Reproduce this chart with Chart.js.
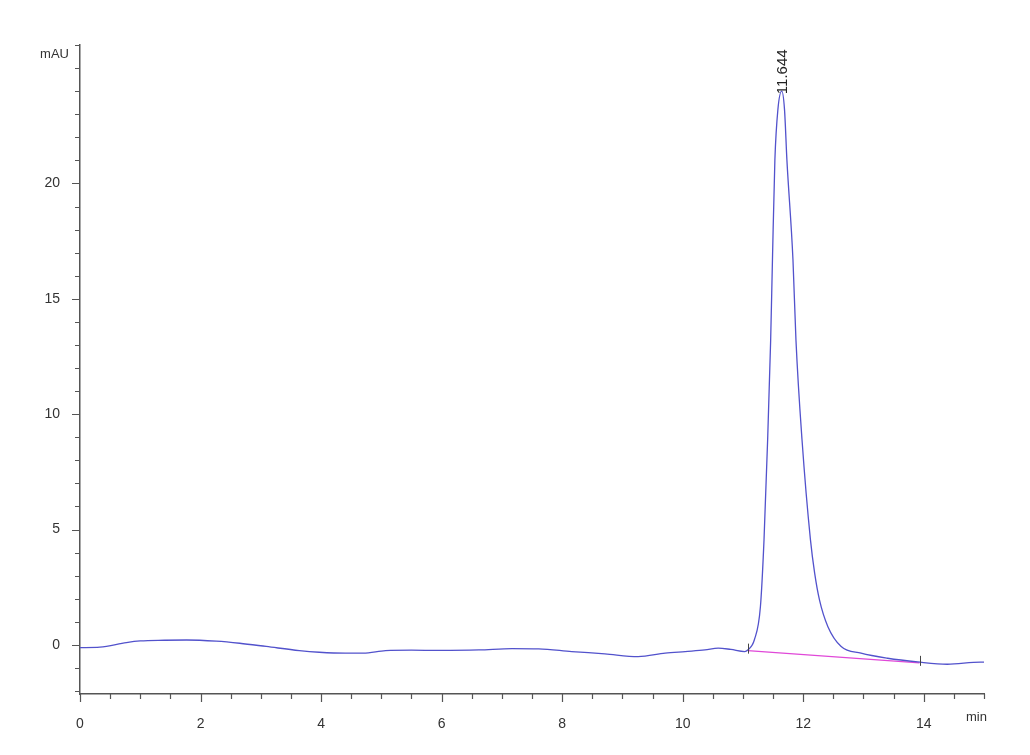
<!DOCTYPE html>
<html>
<head>
    <title>Chromatogram</title>
    <script src="https://cdn.jsdelivr.net/npm/chart.js"></script>
    <style>
        body { margin: 0; background: #fff; }
        .chart-container { width: 1030px; height: 755px; }
    </style>
</head>
<body>
    <div class="chart-container">
        <canvas id="chromChart"></canvas>
    </div>

    <script>
        // 数据 (时间 min, 信号 mAU)
        const signalTime = [0, 0.33, 0.77, 1.0, 1.4, 1.77, 2.26, 2.65, 3.09, 3.64, 3.97, 4.4, 4.7, 5.07, 5.5, 5.96,
            6.62, 7.17, 7.61, 8.16, 8.71, 9.26, 9.71, 10.04, 10.37, 10.59, 10.8, 11.03, 11.08, 11.19, 11.29,
            11.35, 11.41, 11.46, 11.49, 11.53, 11.58, 11.644, 11.69, 11.73, 11.83, 11.88, 11.98, 12.12, 12.19,
            12.27, 12.41, 12.63, 12.96, 13.40, 13.9, 14.39, 14.94, 15.0];
        const signalValue = [-0.12, -0.1, 0.1, 0.17, 0.2, 0.21, 0.16, 0.07, -0.07, -0.25, -0.32, -0.36, -0.36, -0.25, -0.23, -0.24,
            -0.22, -0.16, -0.17, -0.29, -0.39, -0.51, -0.36, -0.29, -0.22, -0.14, -0.2, -0.29, -0.22, 0.22, 1.65,
            4.56, 8.89, 13.2, 16.7, 21.0, 23.2, 24.0, 23.2, 21.0, 16.7, 13.2, 8.9, 4.56, 3.11,
            1.95, 0.79, -0.07, -0.36, -0.58, -0.74, -0.84, -0.75, -0.75];
        const baselineTime = [11.08, 13.93];
        const baselineValue = [-0.25, -0.78];
        const peakTime = 11.644;
        const peakValue = 24.0;
        const peakLabel = '11.644';
        const xTickLabels = [0, 2, 4, 6, 8, 10, 12, 14];
        const yTickLabels = [0, 5, 10, 15, 20];

        const axisColor = '#555';

        // 自定义刻度、轴标题和峰标注
        const decorPlugin = {
            id: 'decor',
            afterDraw(chart) {
                const ctx = chart.ctx;
                const xs = chart.scales.x, ys = chart.scales.y;
                const area = chart.chartArea;
                ctx.save();
                ctx.strokeStyle = axisColor;
                ctx.lineWidth = 1.2;
                ctx.beginPath();
                for (let v = 0; v <= 15.001; v += 0.5) {
                    const px = Math.round(xs.getPixelForValue(v)) + 0.5;
                    const len = xTickLabels.includes(v) ? 8 : 5;
                    ctx.moveTo(px, area.bottom);
                    ctx.lineTo(px, area.bottom + len);
                }
                for (let v = -2; v <= 26; v += 1) {
                    const py = Math.round(ys.getPixelForValue(v)) + 0.5;
                    const len = yTickLabels.includes(v) ? 8 : 5;
                    ctx.moveTo(area.left, py);
                    ctx.lineTo(area.left - len, py);
                }
                ctx.stroke();

                // 轴标题
                ctx.fillStyle = '#333';
                ctx.font = '13px "Liberation Sans", Arial, sans-serif';
                ctx.textBaseline = 'middle';
                ctx.textAlign = 'right';
                ctx.fillText('mAU', area.left - 11, area.top + 9);
                ctx.textAlign = 'left';
                ctx.fillText('min', area.right - 18, area.bottom + 23);

                // 积分基线端点标记
                ctx.strokeStyle = '#444';
                ctx.lineWidth = 1;
                ctx.beginPath();
                for (let i = 0; i < baselineTime.length; i++) {
                    const bx = Math.round(xs.getPixelForValue(baselineTime[i])) + 0.5;
                    const by = ys.getPixelForValue(baselineValue[i]);
                    ctx.moveTo(bx, by - 7);
                    ctx.lineTo(bx, by + 3);
                }
                ctx.stroke();

                // 峰保留时间标注
                const px = xs.getPixelForValue(peakTime);
                const py = ys.getPixelForValue(peakValue);
                ctx.translate(px + 1, py + 3);
                ctx.rotate(-Math.PI / 2);
                ctx.fillStyle = '#222';
                ctx.font = '15px "Liberation Sans", Arial, sans-serif';
                ctx.textAlign = 'left';
                ctx.textBaseline = 'middle';
                ctx.fillText(peakLabel, 0, 0);
                ctx.restore();
            }
        };

        const ctx = document.getElementById('chromChart').getContext('2d');
        const chart = new Chart(ctx, {
            type: 'line',
            data: {
                datasets: [
                    {
                        label: 'signal',
                        data: signalTime.map((t, i) => ({ x: t, y: signalValue[i] })),
                        borderColor: '#5252cc',
                        borderWidth: 1.3,
                        pointRadius: 0,
                        cubicInterpolationMode: 'monotone',
                        fill: false
                    },
                    {
                        label: 'baseline',
                        data: baselineTime.map((t, i) => ({ x: t, y: baselineValue[i] })),
                        borderColor: '#e048d8',
                        borderWidth: 1.3,
                        pointRadius: 0,
                        fill: false
                    }
                ]
            },
            options: {
                responsive: true,
                maintainAspectRatio: false,
                animation: false,
                layout: {
                    padding: { top: 45, right: 46, bottom: 0, left: 0 }
                },
                scales: {
                    x: {
                        type: 'linear',
                        min: 0,
                        max: 15,
                        afterBuildTicks: s => { s.ticks = xTickLabels.map(v => ({ value: v })); },
                        afterFit: s => { s.height = 61; },
                        grid: { display: false },
                        border: { display: true, color: axisColor, width: 1.5 },
                        ticks: {
                            color: '#333',
                            font: { family: '"Liberation Sans", Arial, sans-serif', size: 14 },
                            padding: 14,
                            maxRotation: 0
                        }
                    },
                    y: {
                        type: 'linear',
                        min: -2.13,
                        max: 26,
                        afterBuildTicks: s => { s.ticks = yTickLabels.map(v => ({ value: v })); },
                        afterFit: s => { s.width = 80; },
                        grid: { display: false },
                        border: { display: true, color: axisColor, width: 1.5 },
                        ticks: {
                            color: '#333',
                            font: { family: '"Liberation Sans", Arial, sans-serif', size: 14 },
                            padding: 12
                        }
                    }
                },
                plugins: {
                    legend: { display: false },
                    tooltip: { enabled: false }
                }
            },
            plugins: [decorPlugin]
        });
    </script>
</body>
</html>
